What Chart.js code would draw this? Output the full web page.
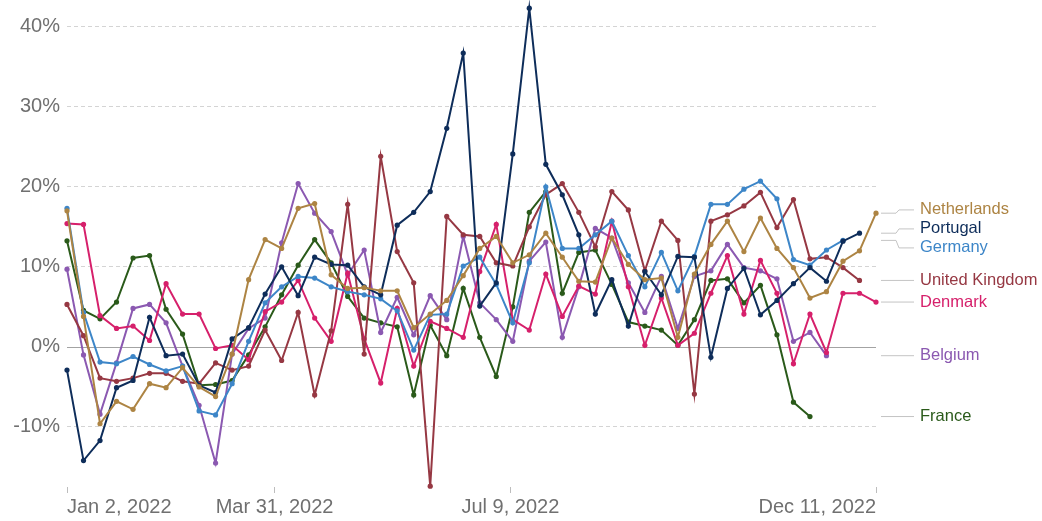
<!DOCTYPE html>
<html>
<head>
<meta charset="utf-8">
<script src="https://cdn.jsdelivr.net/npm/chart.js@4.4.1/dist/chart.umd.min.js"></script>
<style>
  html, body { margin: 0; padding: 0; background: #fff; }
  #wrap { width: 1042px; height: 521px; }
</style>
</head>
<body>
<div id="wrap"><canvas id="weeklyChart" width="1042" height="521"></canvas></div>
<script>
// weekly change (%) per country, weeks starting Jan 2, 2022
var netherlands = [17.0, 3.8, -9.6, -6.8, -7.8, -4.6, -5.1, -2.6, -5.0, -6.2, -0.9, 8.4, 13.4, 12.3, 17.3, 17.9, 9.0, 7.3, 7.4, 7.0,
  7.0, 2.4, 4.1, 5.8, 8.9, 12.3, 13.8, 10.5, 11.5, 14.2, 11.2, 8.2, 8.1, 13.6, 10.3, 8.4, 8.6, 1.2, 9.1, 12.8,
  15.7, 11.9, 16.1, 12.3, 9.9, 6.1, 6.9, 10.7, 12.0, 16.7]
var portugal = [-2.9, -14.2, -11.7, -5.1, -4.2, 3.7, -1.1, -0.9, -4.8, -5.7, 1.0, 2.4, 6.6, 10.0, 6.4, 11.2, 10.3, 10.2, 7.5, 6.5,
  15.2, 16.8, 19.4, 27.3, 36.7, 5.1, 8.0, 24.1, 42.3, 22.8, 19.0, 14.0, 4.1, 8.4, 2.6, 9.4, 6.5, 11.3, 11.2, -1.3,
  7.3, 9.8, 4.0, 5.8, 7.9, 9.9, 8.2, 13.2, 14.2]
var germany = [17.3, 4.3, -1.9, -2.1, -1.2, -2.2, -3.0, -2.4, -8.0, -8.5, -4.6, 0.7, 5.5, 7.5, 8.8, 8.6, 7.5, 6.9, 6.5, 6.0,
  4.5, -0.4, 4.0, 4.1, 10.1, 11.2, 7.8, 3.0, 10.5, 20.0, 12.3, 12.3, 14.0, 15.7, 11.4, 7.5, 11.8, 7.0, 11.3, 17.8,
  17.8, 19.7, 20.7, 18.5, 10.9, 10.2, 12.1, 13.3]
var unitedKingdom = [5.3, 1.4, -3.9, -4.3, -3.9, -3.3, -3.3, -4.3, -4.6, -2.0, -2.9, -2.4, 2.1, -1.7, 4.3, -6.0, 2.0, 17.8, -0.9, 23.8,
  11.9, 8.0, -17.4, 16.3, 14.0, 13.8, 10.5, 10.1, 15.0, 19.0, 20.4, 16.8, 12.5, 19.4, 17.1, 9.5, 15.7, 13.3, -5.9, 15.7,
  16.5, 17.6, 19.3, 14.9, 18.4, 11.0, 11.2, 9.9, 8.3]
var denmark = [15.4, 15.3, 3.9, 2.3, 2.6, 0.8, 7.9, 4.1, 4.1, -0.2, 0.2, -1.6, 4.4, 5.6, 8.3, 3.6, 0.7, 9.2, 1.0, -4.5,
  4.8, -2.4, 3.2, 2.3, 1.2, 9.4, 15.3, 3.4, 2.1, 9.1, 3.8, 7.6, 6.6, 15.7, 7.5, 0.2, 6.1, 0.2, 1.7, 6.7,
  11.4, 4.1, 10.8, 6.7, -2.1, 4.1, -0.7, 6.7, 6.7, 5.6]
var belgium = [9.7, -1.0, -8.4, -2.0, 4.8, 5.3, 3.0, -2.4, -7.3, -14.5, -0.9, 2.3, 3.6, 13.0, 20.4, 16.7, 14.4, 9.0, 12.1, 1.8,
  6.2, 1.5, 6.4, 3.4, 13.8, 5.5, 3.4, 0.7, 10.7, 13.1, 1.2, 7.5, 14.8, 13.6, 8.0, 4.3, 8.8, 2.3, 8.8, 9.5,
  12.8, 9.9, 9.5, 8.5, 0.7, 1.8, -1.1]
var france = [13.25, 4.55, 3.5, 5.6, 11.1, 11.4, 4.7, 1.6, -4.8, -4.7, -4.2, -1.0, 2.5, 6.5, 10.2, 13.4, 10.5, 6.3, 3.6, 3.0,
  2.5, -6.0, 2.7, -1.1, 7.3, 1.2, -3.7, 5.0, 16.8, 19.4, 6.7, 11.8, 12.1, 7.8, 3.1, 2.6, 2.1, 0.2, 3.4, 8.3,
  8.5, 5.5, 7.7, 1.5, -6.9, -8.7]

var countries = ['Netherlands', 'Portugal', 'Germany', 'United Kingdom', 'Denmark', 'Belgium', 'France']
var seriesValues = [netherlands, portugal, germany, unitedKingdom, denmark, belgium, france]
var seriesColors = ['#ad8443', '#0e2d5a', '#3d86c8', '#963843', '#d6206b', '#8b59b1', '#2a5a1a']

var yTicks = [-10, 0, 10, 20, 30, 40]
var tickDates = ['2022-01-02', '2022-03-31', '2022-07-09', '2022-12-11']
var tickLabels = ['Jan 2, 2022', 'Mar 31, 2022', 'Jul 9, 2022', 'Dec 11, 2022']

var startDate = new Date('2022-01-02T00:00:00Z')
var DAY = 24 * 3600 * 1000
function dayOffset(str){
  return Math.round((new Date(str + 'T00:00:00Z') - startDate) / DAY)
}
var tickDays = tickDates.map(dayOffset)

var FONT = '"Liberation Sans", Arial, sans-serif'
var GREY_TEXT = '#707070'

// week i -> day offset i*7
var datasets = countries.map(function(name, k){
  return {
    label: name,
    data: seriesValues[k].map(function(v, i){ return {x: i * 7, y: v} }),
    borderColor: seriesColors[k],
    backgroundColor: seriesColors[k],
    borderWidth: 2,
    pointRadius: 2.6,
    pointBorderWidth: 0,
    pointHoverRadius: 2.6,
    tension: 0,
    clip: false
  }
})

// solid line at 0%
var zeroLine = {
  id: 'zeroLine',
  beforeDatasetsDraw: function(chart){
    var ctx = chart.ctx, area = chart.chartArea
    var y = Math.round(chart.scales.y.getPixelForValue(0)) + 0.5
    ctx.save()
    ctx.strokeStyle = '#a3a3a3'
    ctx.lineWidth = 1.2
    ctx.beginPath()
    ctx.moveTo(area.left, y)
    ctx.lineTo(area.right, y)
    ctx.stroke()
    ctx.restore()
  }
}

// country names at the end of each line, pushed apart when they collide
var endLabels = {
  id: 'endLabels',
  afterDatasetsDraw: function(chart){
    var ctx = chart.ctx, area = chart.chartArea, yScale = chart.scales.y
    var gap = 19
    var items = countries.map(function(name, k){
      var vals = seriesValues[k]
      var y = yScale.getPixelForValue(vals[vals.length - 1])
      return {name: name, color: seriesColors[k], y: y, ly: y}
    })
    items.sort(function(a, b){ return a.y - b.y })
    // merge overlapping groups and spread them around their mean
    var groups = items.map(function(it){ return [it] })
    var changed = true
    while(changed){
      changed = false
      for(var g = 0; g < groups.length - 1; g++){
        var a = groups[g], b = groups[g + 1]
        if(b[0].ly - a[a.length - 1].ly < gap){
          var merged = a.concat(b)
          var mean = merged.reduce(function(s, it){ return s + it.y }, 0) / merged.length
          var top = mean - gap * (merged.length - 1) / 2
          merged.forEach(function(it, j){ it.ly = top + j * gap })
          groups.splice(g, 2, merged)
          changed = true
          break
        }
      }
    }
    ctx.save()
    ctx.font = '16.5px ' + FONT
    ctx.textBaseline = 'middle'
    items.forEach(function(it){
      var x0 = area.right + 5, x1 = area.right + 20, x2 = area.right + 23, x3 = area.right + 38
      ctx.strokeStyle = '#c4c4c4'
      ctx.lineWidth = 1
      ctx.beginPath()
      ctx.moveTo(x0, it.y)
      ctx.lineTo(x1, it.y)
      ctx.lineTo(x2, it.ly)
      ctx.lineTo(x3, it.ly)
      ctx.stroke()
      ctx.fillStyle = it.color
      ctx.fillText(it.name, area.right + 44, it.ly)
    })
    ctx.restore()
  }
}

var chart = new Chart(document.getElementById('weeklyChart'), {
  type: 'line',
  data: {datasets: datasets},
  options: {
    responsive: false,
    animation: false,
    layout: {padding: {left: 0, right: 166, top: 0, bottom: 0}},
    plugins: {legend: {display: false}, tooltip: {enabled: false}},
    scales: {
      x: {
        type: 'linear',
        min: 0,
        max: 343,
        afterBuildTicks: function(axis){
          axis.ticks = tickDays.map(function(d){ return {value: d} })
        },
        afterFit: function(axis){
          axis.height = 34
          axis.paddingLeft = 0
          axis.paddingRight = 0
        },
        ticks: {
          autoSkip: false,
          maxRotation: 0,
          align: 'inner',
          padding: 2,
          color: GREY_TEXT,
          font: {size: 20, family: FONT},
          callback: function(value, index){ return tickLabels[index] }
        },
        grid: {drawOnChartArea: false, drawTicks: true, tickLength: 6, color: '#bdbdbd'},
        border: {display: false}
      },
      y: {
        min: -17.5,
        max: 43,
        afterBuildTicks: function(axis){
          axis.ticks = yTicks.map(function(v){ return {value: v} })
        },
        afterFit: function(axis){
          axis.width = 67
          axis.paddingTop = 0
          axis.paddingBottom = 0
        },
        ticks: {
          padding: 7,
          color: GREY_TEXT,
          font: {size: 20, family: FONT},
          callback: function(value){ return value + '%' }
        },
        grid: {
          drawTicks: false,
          color: function(c){ return c.tick && c.tick.value === 0 ? 'rgba(0,0,0,0)' : '#d4d4d4' },
          lineWidth: 1
        },
        border: {display: false, dash: [4, 3]}
      }
    }
  },
  plugins: [zeroLine, endLabels]
})
</script>
</body>
</html>
